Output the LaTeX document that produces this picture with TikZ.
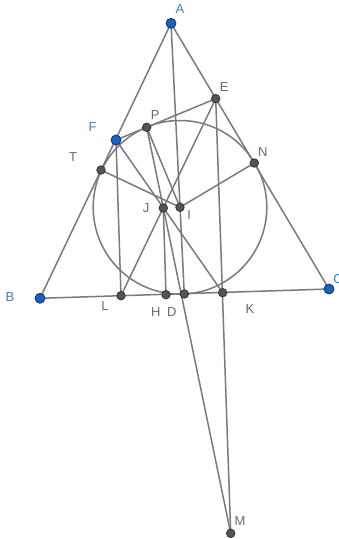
\documentclass[tikz,border=0pt]{standalone}
\usepackage{fontspec}
\setmainfont{Liberation Sans}
\definecolor{linegray}{RGB}{122,122,122}
\definecolor{labgray}{RGB}{105,105,105}
\definecolor{labblue}{RGB}{70,122,190}
\definecolor{ptblue}{RGB}{22,98,190}
\definecolor{ptblueborder}{RGB}{15,55,110}
\definecolor{ptgray}{RGB}{85,85,85}
\begin{document}
\begin{tikzpicture}[x=1pt,y=-1pt,
  seg/.style={draw=linegray,line width=1.5pt},
  freept/.style={circle,fill=ptblue,draw=ptblueborder,line width=0.8pt,minimum size=10pt,inner sep=0pt},
  deppt/.style={circle,fill=ptgray,draw=black!80,line width=0.8pt,minimum size=8.5pt,inner sep=0pt},
  lab/.style={text=labgray,font=\fontsize{13}{15}\selectfont,inner sep=0pt},
  blab/.style={text=labblue,font=\fontsize{13}{15}\selectfont,inner sep=0pt}]
\useasboundingbox (0,0) rectangle (338,539);
% point coordinates
\coordinate (A) at (171,23.3);
\coordinate (B) at (40,298.3);
\coordinate (C) at (329,289);
\coordinate (E) at (215.7,98.7);
\coordinate (F) at (116,140);
\coordinate (P) at (146.7,127.3);
\coordinate (N) at (254.3,163);
\coordinate (T) at (101,170);
\coordinate (J) at (163.3,208);
\coordinate (I) at (180,207.3);
\coordinate (L) at (121,295.7);
\coordinate (H) at (166,294.7);
\coordinate (D) at (184.3,294);
\coordinate (K) at (222.7,292.7);
\coordinate (M) at (230.7,533.3);
% incircle
\draw[seg] (I) circle (86.8);
% triangle
\draw[seg] (A) -- (B) -- (C) -- cycle;
% other segments
\draw[seg] (A) -- (D);
\draw[seg] (F) -- (E);
\draw[seg] (F) -- (L);
\draw[seg] (F) -- (K);
\draw[seg] (E) -- (L);
\draw[seg] (E) -- (M);
\draw[seg] (P) -- (M);
\draw[seg] (P) -- (I);
\draw[seg] (T) -- (I);
\draw[seg] (I) -- (N);
\draw[seg] (J) -- (H);
% points
\foreach \p in {E,P,N,T,J,I,L,H,D,K,M} \node[deppt] (n\p) at (\p) {};
\foreach \p in {A,B,C,F} \node[freept] (n\p) at (\p) {};
% labels
\node[blab] (lA) at (180,9.3) {A};
\node[blab] (lB) at (10,296.7) {B};
\node[blab] (lC) at (338,279) {C};
\node[blab] (lF) at (92.7,126.7) {F};
\node[lab] (lE) at (224.3,87.3) {E};
\node[lab] (lP) at (155.3,115) {P};
\node[lab] (lN) at (262.7,151.7) {N};
\node[lab] (lT) at (73,157) {T};
\node[lab] (lJ) at (146,208.3) {J};
\node[lab] (lI) at (189.3,215) {I};
\node[lab] (lL) at (105,305.7) {L};
\node[lab] (lH) at (155.7,311.7) {H};
\node[lab] (lD) at (171.7,312.3) {D};
\node[lab] (lK) at (250,309.3) {K};
\node[lab] (lM) at (240,520.7) {M};
\end{tikzpicture}
\end{document}
